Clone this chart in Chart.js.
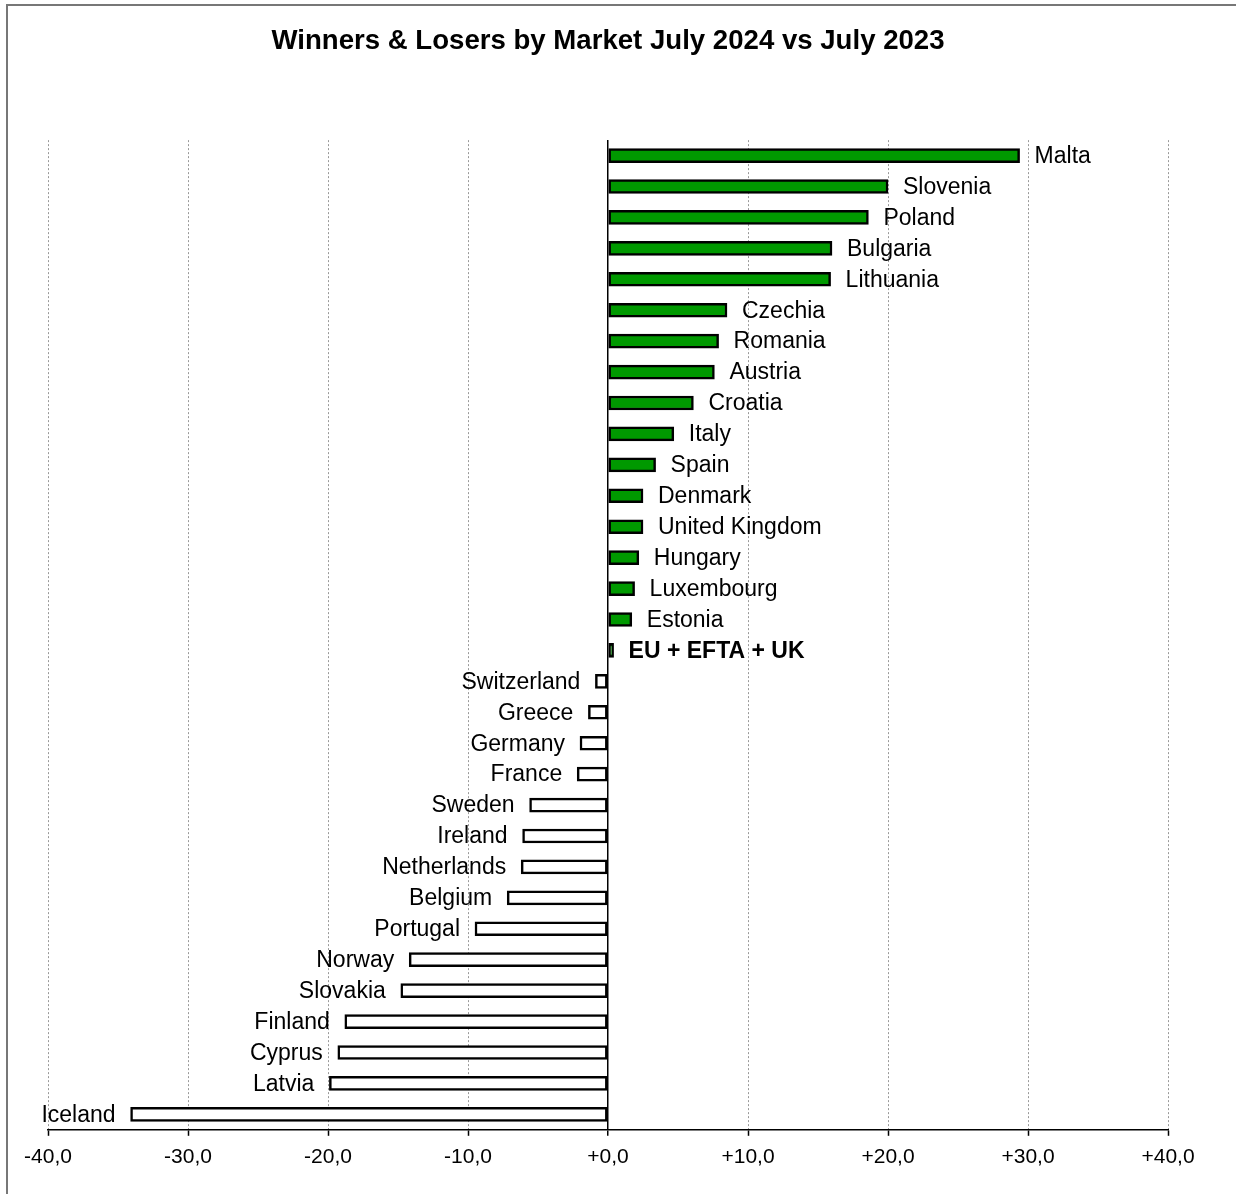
<!DOCTYPE html>
<html>
<head>
<meta charset="utf-8">
<script src="https://cdn.jsdelivr.net/npm/chart.js@4"></script>
<style>
  body { margin: 0; background: #fff; }
  canvas { display: block; }
</style>
</head>
<body>
<canvas id="marketChart" width="1236" height="1194"></canvas>
<script>
// markets, top to bottom
const markets = [
    "Malta", "Slovenia", "Poland", "Bulgaria", "Lithuania", "Czechia", "Romania", "Austria",
    "Croatia", "Italy", "Spain", "Denmark", "United Kingdom", "Hungary", "Luxembourg", "Estonia",
    "EU + EFTA + UK", "Switzerland", "Greece", "Germany", "France", "Sweden", "Ireland",
    "Netherlands", "Belgium", "Portugal", "Norway", "Slovakia", "Finland", "Cyprus", "Latvia", "Iceland"
];
// % change July 2024 vs July 2023
const changes = [
    29.4, 20.0, 18.6, 16.0, 15.9, 8.5, 7.9, 7.6,
    6.1, 4.7, 3.4, 2.5, 2.5, 2.2, 1.9, 1.7,
    0.4, -0.9, -1.4, -2.0, -2.2, -5.6, -6.1,
    -6.2, -7.2, -9.5, -14.2, -14.8, -18.8, -19.3, -19.9, -34.1
];
const xTicks = [-40, -30, -20, -10, 0, 10, 20, 30, 40];
const totalLabel = "EU + EFTA + UK";

const FONT = "'Liberation Sans', Arial, sans-serif";

function fmtTick(v) {
    return (v >= 0 ? "+" : "") + v.toFixed(1).replace(".", ",");
}

// country names next to the end of each bar
const barLabels = {
    id: 'barLabels',
    afterDatasetsDraw(chart) {
        const c = chart.ctx;
        const meta = chart.getDatasetMeta(0);
        c.save();
        c.fillStyle = '#000';
        c.textBaseline = 'middle';
        meta.data.forEach(function (bar, i) {
            const name = markets[i];
            c.font = (name === totalLabel ? 'bold ' : '') + '23px ' + FONT;
            if (changes[i] >= 0) {
                c.textAlign = 'left';
                c.fillText(name, bar.x + 15, bar.y + 1);
            } else {
                c.textAlign = 'right';
                c.fillText(name, bar.x - 15, bar.y + 1);
            }
        });
        c.restore();
    }
};

// outer frame lines of the page
const frame = {
    id: 'frame',
    beforeDraw(chart) {
        const c = chart.ctx;
        c.save();
        c.strokeStyle = '#777';
        c.lineWidth = 2;
        c.beginPath();
        c.moveTo(7, 1194);
        c.lineTo(7, 5);
        c.lineTo(1236, 5);
        c.stroke();
        c.restore();
    }
};

const ctx = document.getElementById('marketChart').getContext('2d');
const chart = new Chart(ctx, {
    type: 'bar',
    data: {
        labels: markets,
        datasets: [{
            data: changes,
            backgroundColor: changes.map(v => v >= 0 ? '#009900' : '#ffffff'),
            borderColor: '#000',
            borderWidth: 2.5,
            borderSkipped: false,
            barThickness: 14
        }]
    },
    options: {
        indexAxis: 'y',
        responsive: false,
        animation: false,
        devicePixelRatio: 1,
        layout: { padding: { left: 48, right: 68, top: 0, bottom: 15 } },
        plugins: {
            legend: { display: false },
            tooltip: { enabled: false },
            title: {
                display: true,
                text: 'Winners & Losers by Market July 2024 vs July 2023',
                color: '#000',
                font: { family: FONT, size: 27.6, weight: 'bold' },
                padding: { top: 25, bottom: 82 }
            }
        },
        scales: {
            x: {
                min: -40,
                max: 40,
                afterBuildTicks(scale) {
                    scale.ticks = xTicks.map(v => ({ value: v }));
                },
                ticks: {
                    color: '#000',
                    font: { family: FONT, size: 21 },
                    padding: 9,
                    callback: v => fmtTick(v)
                },
                grid: {
                    color: c => c.tick && c.tick.value === 0 ? '#000' : '#999',
                    lineWidth: c => c.tick && c.tick.value === 0 ? 1.5 : 1,
                    drawTicks: true,
                    tickLength: 6,
                    tickColor: '#000',
                    tickWidth: 1.5,
                    tickBorderDash: []
                },
                border: {
                    display: true,
                    color: '#000',
                    width: 1.5,
                    dash: c => c.tick && c.tick.value === 0 ? [] : [2, 2]
                }
            },
            y: {
                display: false
            }
        }
    },
    plugins: [barLabels, frame]
});
</script>
</body>
</html>
